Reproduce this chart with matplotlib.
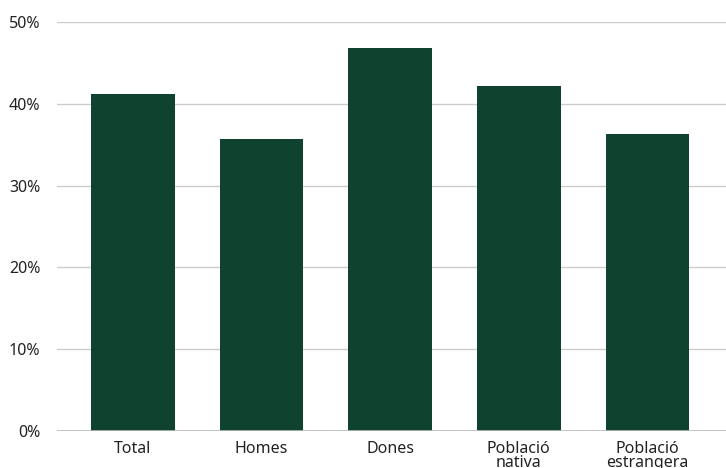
import matplotlib.pyplot as plt
import numpy as np

categories = ["Total", "Homes", "Dones", "Població\nnativa", "Població\nestrangera"]
values = [41.2, 35.7, 46.8, 42.2, 36.3]
yticks = [0, 10, 20, 30, 40, 50]

plt.rcParams["font.family"] = ["Noto Sans", "DejaVu Sans"]

fig = plt.figure(figsize=(7.26, 4.68), dpi=100)
ax = fig.add_axes([57 / 726, 1 - 431 / 468, 1 - 57 / 726, (431 - 22) / 468])

x = np.arange(len(categories))
ax.bar(x, values, width=0.65, color="#10432f", zorder=3)

ax.set_xlim(-0.59, 4.61)
ax.set_ylim(0, 50)
ax.set_yticks(yticks)
ax.set_yticklabels([f"{t}%" for t in yticks], fontsize=11.5, color="#222222")
ax.set_xticks(x)
ax.set_xticklabels(categories, fontsize=11.5, color="#222222", linespacing=0.82)

ax.grid(axis="y", color="#cccccc", linewidth=1, zorder=0)
ax.tick_params(axis="y", length=0, pad=12)
ax.tick_params(axis="x", length=0, pad=7)
for s in ax.spines.values():
    s.set_visible(False)
ax.axhline(0, color="#bbbbbb", linewidth=1.2, zorder=4)

fig.savefig("out.png", dpi=100)
